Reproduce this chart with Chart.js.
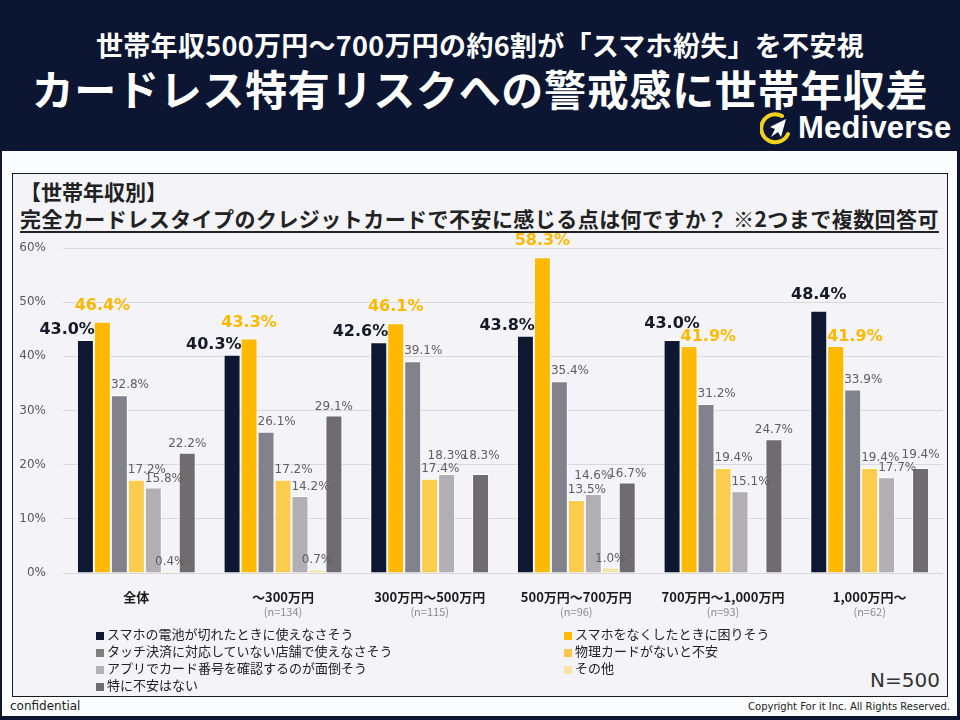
<!DOCTYPE html>
<html lang="ja">
<head>
<meta charset="utf-8">
<title>世帯年収別 カードレス不安</title>
<script src="https://cdn.jsdelivr.net/npm/chart.js@4.4.1/dist/chart.umd.min.js"></script>
<style>
  html, body { margin: 0; padding: 0; }
  body {
    width: 960px; height: 720px; overflow: hidden; position: relative;
    background: #0c1632;
    font-family: "Noto Sans CJK JP", "Noto Sans", sans-serif;
  }
  .head1, .head2 {
    position: absolute; left: 0; width: 960px; text-align: center;
    color: #fff; font-weight: 700; white-space: nowrap;
  }
  .head1 { top: 28px; font-size: 27px; line-height: 34px; letter-spacing: 0.3px; }
  .head2 { top: 62px; font-size: 42px; line-height: 52px; letter-spacing: 0.7px; }
  .logo { position: absolute; left: 760px; top: 110px; height: 36px; display: flex; align-items: center; }
  .logo span {
    color: #fff; font-family: "Liberation Sans", Arial, sans-serif; font-weight: 700;
    font-size: 31px; margin-left: 6px; letter-spacing: 0.2px;
  }
  .panel { position: absolute; left: 2px; top: 151px; width: 955px; height: 565px; background: #fafcff; }
  .box {
    position: absolute; left: 12px; top: 173px; width: 934px; height: 522px;
    background: #f3f3f8; border: 1.5px solid #1a1a1a;
  }
  .sub { position: absolute; left: 20px; top: 176px; font-size: 21px; font-weight: 700; color: #222; }
  .question {
    position: absolute; left: 20px; top: 203px; font-size: 21px; font-weight: 700; color: #222;
    text-decoration: underline; text-underline-offset: 4px; white-space: nowrap; letter-spacing: 0.45px;
  }
  #chartWrap { position: absolute; left: 12px; top: 224px; width: 936px; height: 402px; }
  .legend { position: absolute; top: 625px; font-size: 13px; color: #222; line-height: 17px; }
  .legend div { white-space: nowrap; }
  .legend i {
    display: inline-block; width: 8px; height: 8px; margin-right: 3px; vertical-align: -1px;
  }
  .nTotal {
    position: absolute; right: 20px; top: 668px; font-family: "DejaVu Sans", sans-serif;
    font-size: 20px; color: #333;
  }
  .foot { position: absolute; top: 699px; font-size: 12px; color: #222; font-family: "DejaVu Sans", sans-serif; }
</style>
</head>
<body>
<div class="head1">世帯年収500万円～700万円の約6割が「スマホ紛失」を不安視</div>
<div class="head2">カードレス特有リスクへの警戒感に世帯年収差</div>
<div class="logo">
  <svg width="32" height="36" viewBox="0 0 32 36">
    <path d="M22 6 A14 14 0 1 0 28 24" fill="none" stroke="#f4d21c" stroke-width="4" stroke-linecap="round"/>
    <path d="M26 9 L10 17 L15 19 L11 27 L18 22 L21 27 Z" fill="#fff"/>
  </svg>
  <span>Mediverse</span>
</div>
<div class="panel"></div>
<div class="box"></div>
<div class="sub">【世帯年収別】</div>
<div class="question">完全カードレスタイプのクレジットカードで不安に感じる点は何ですか？ ※2つまで複数回答可</div>
<div id="chartWrap"><canvas id="incomeChart" width="936" height="402"></canvas></div>
<div class="legend" id="legendLeft" style="left:96px"></div>
<div class="legend" id="legendRight" style="left:564px"></div>
<div class="nTotal">N=500</div>
<div class="foot" style="left:10px">confidential</div>
<div class="foot" style="right:10px;font-size:10px;top:701px">Copyright For it Inc. All Rights Reserved.</div>

<script>
// categories and sample sizes
const categories = ['全体', '～300万円', '300万円～500万円', '500万円～700万円', '700万円～1,000万円', '1,000万円～'];
const sampleSizes = ['', '(n=134)', '(n=115)', '(n=96)', '(n=93)', '(n=62)'];

const seriesNames = [
  'スマホの電池が切れたときに使えなさそう',
  'スマホをなくしたときに困りそう',
  'タッチ決済に対応していない店舗で使えなさそう',
  '物理カードがないと不安',
  'アプリでカード番号を確認するのが面倒そう',
  'その他',
  '特に不安はない'
];

// values (%) per series, one per category
const batteryDead  = [43.0, 40.3, 42.6, 43.8, 43.0, 48.4];
const lostPhone    = [46.4, 43.3, 46.1, 58.3, 41.9, 41.9];
const noTouchPay   = [32.8, 26.1, 39.1, 35.4, 31.2, 33.9];
const noPhysical   = [17.2, 17.2, 17.4, 13.5, 19.4, 19.4];
const appHassle    = [15.8, 14.2, 18.3, 14.6, 15.1, 17.7];
const otherConcern = [0.4, 0.7, null, 1.0, null, null];
const noConcern    = [22.2, 29.1, 18.3, 16.7, 24.7, 19.4];

const yMax = 60;
const yStep = 10;

const barColors = ['#0f1833', '#ffb900', '#82828c', '#fccc4f', '#b1afb1', '#f2e6a6', '#6f6b6f'];
const legendColors = ['#0f1833', '#ffb900', '#7f7f7f', '#fcc64a', '#b3b3b3', '#fbe3a8', '#6e6e6e'];
const allSeries = [batteryDead, lostPhone, noTouchPay, noPhysical, appHassle, otherConcern, noConcern];

Chart.defaults.font.family = "'DejaVu Sans', sans-serif";

// value labels above bars
const valueLabels = {
  id: 'valueLabels',
  afterDatasetsDraw(chart) {
    const ctx = chart.ctx;
    const ds = chart.data.datasets;
    const bars = ds.map((d, di) => chart.getDatasetMeta(di).data);
    const smallFont = '12px "DejaVu Sans", sans-serif';
    const bigFont = 'bold 16px "DejaVu Sans", sans-serif';

    chart.data.labels.forEach((lab, i) => {
      const navyTop = ds[0].data[i] >= ds[1].data[i];
      let s4Box = null;

      ds.forEach((d, di) => {
        const v = d.data[i];
        if (v == null) return;
        const bar = bars[di][i];
        const half = bar.width / 2;
        const txt = v.toFixed(1) + '%';
        let align = 'center', x = bar.x, bottom = bar.y - 3;

        ctx.save();
        ctx.textBaseline = 'bottom';
        if (di === 0) {
          ctx.font = bigFont;
          ctx.fillStyle = '#161a26';
          if (navyTop) { bottom = bar.y - 8; }
          else { align = 'right'; x = bar.x + half + 1; bottom = bar.y - 2; }
        } else if (di === 1) {
          ctx.font = bigFont;
          ctx.fillStyle = '#fdb900';
          if (navyTop) { align = 'left'; x = bar.x - half; bottom = bar.y - 1; }
          else { bottom = bar.y - 8; }
        } else {
          ctx.font = smallFont;
          ctx.fillStyle = '#5f5f5f';
          const w = ctx.measureText(txt).width;
          if (di === 2 || di === 3) {
            align = 'left'; x = bar.x - half; bottom = bar.y - 4;
          } else if (di === 4) {
            if (v >= ds[3].data[i]) { bottom = bar.y - 12; }
            else { align = 'left'; x = bar.x - half; bottom = bar.y - 3; }
            const left = align === 'left' ? x : x - w / 2;
            s4Box = { left, right: left + w, bottom };
          } else if (di === 6 && s4Box) {
            // keep the last label clear of its neighbour
            const left = x - w / 2;
            const overlapY = Math.abs(bottom - s4Box.bottom) < 13;
            if (overlapY && left < s4Box.right - 5) bottom = Math.min(bottom, s4Box.bottom - 13);
            else if (overlapY && left < s4Box.right + 2) bottom = Math.min(bottom, s4Box.bottom);
          }
        }
        ctx.textAlign = align;
        ctx.fillText(txt, x, bottom);
        ctx.restore();
      });
    });
  }
};

// two-line category labels under the axis
const categoryLabels = {
  id: 'categoryLabels',
  afterDraw(chart) {
    const ctx = chart.ctx;
    const xs = chart.scales.x;
    const top = chart.chartArea.bottom;
    ctx.save();
    ctx.textAlign = 'center';
    ctx.textBaseline = 'middle';
    categories.forEach((c, i) => {
      const x = xs.getPixelForValue(i);
      ctx.font = 'bold 13px "Noto Sans CJK JP", sans-serif';
      ctx.fillStyle = '#1a1a1a';
      ctx.fillText(c, x, top + 24);
      if (sampleSizes[i]) {
        ctx.font = '11px "Noto Sans CJK JP", sans-serif';
        ctx.fillStyle = '#8c8c8c';
        ctx.fillText(sampleSizes[i], x, top + 39);
      }
    });
    ctx.restore();
  }
};

const chart = new Chart(document.getElementById('incomeChart'), {
  type: 'bar',
  data: {
    labels: categories,
    datasets: allSeries.map((d, i) => ({
      label: seriesNames[i],
      data: d,
      backgroundColor: barColors[i],
      borderColor: '#ffffff',
      borderWidth: 1,
      borderSkipped: 'bottom',
      categoryPercentage: 0.81,
      barPercentage: 1.0
    }))
  },
  options: {
    responsive: false,
    animation: false,
    layout: { padding: { top: 24, right: 5, bottom: 0, left: 0 } },
    plugins: {
      legend: { display: false },
      tooltip: { enabled: false }
    },
    scales: {
      x: {
        grid: { display: false },
        border: { display: false },
        ticks: { display: false },
        afterFit: (s) => { s.height = 53; }
      },
      y: {
        min: 0,
        max: yMax,
        ticks: {
          stepSize: yStep,
          padding: 17,
          color: '#595959',
          font: { size: 12 },
          callback: (v) => v + '%'
        },
        grid: { color: '#d9d9d9', drawTicks: false },
        border: { display: false },
        afterFit: (s) => { s.width = 51; s.paddingTop = 0; s.paddingBottom = 0; }
      }
    }
  },
  plugins: [valueLabels, categoryLabels]
});

// legend in two columns: even series left, odd series right
function legendRow(i) {
  return '<div><i style="background:' + legendColors[i] + '"></i>' + chart.data.datasets[i].label + '</div>';
}
document.getElementById('legendLeft').innerHTML = [0, 2, 4, 6].map(legendRow).join('');
document.getElementById('legendRight').innerHTML = [1, 3, 5].map(legendRow).join('');
</script>
</body>
</html>
